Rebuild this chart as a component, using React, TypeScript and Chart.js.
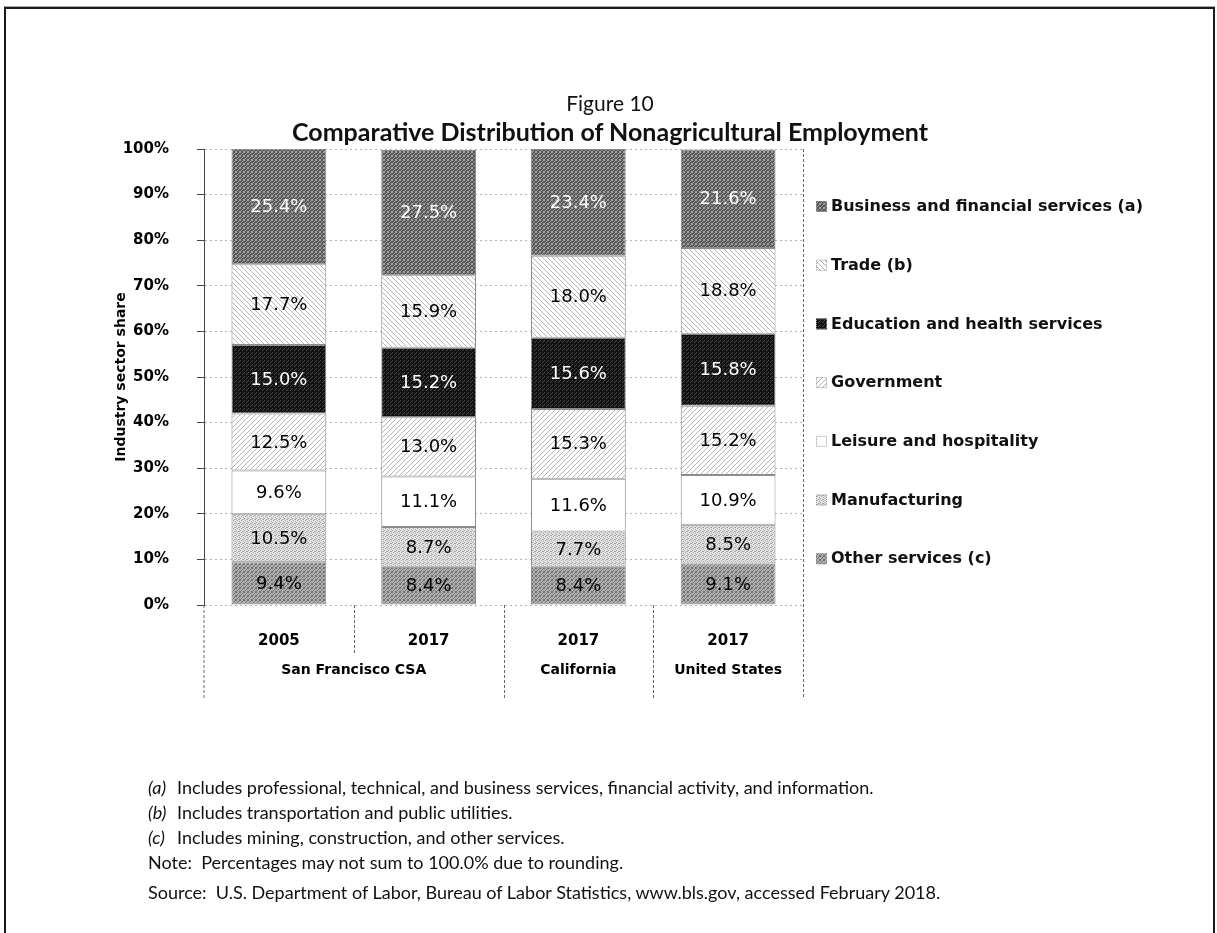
import React, { useEffect, useRef } from "react";
import { Chart, registerables } from "chart.js";
Chart.register(...registerables);

// ---------- data ----------
const categories = ["2005", "2017", "2017", "2017"];
const groupLabels = ["San Francisco CSA", "California", "United States"];
const groupSpans = [2, 1, 1];
const seriesNames = [
  "Other services (c)",
  "Manufacturing",
  "Leisure and hospitality",
  "Government",
  "Education and health services",
  "Trade (b)",
  "Business and financial services (a)",
];
const otherServices = [9.4, 8.4, 8.4, 9.1];
const manufacturing = [10.5, 8.7, 7.7, 8.5];
const leisureHospitality = [9.6, 11.1, 11.6, 10.9];
const government = [12.5, 13.0, 15.3, 15.2];
const educationHealth = [15.0, 15.2, 15.6, 15.8];
const trade = [17.7, 15.9, 18.0, 18.8];
const businessFinancial = [25.4, 27.5, 23.4, 21.6];
const yTickStep = 10;
const yMax = 100;

const footnotes = [
  { mark: "(a)", text: "Includes professional, technical, and business services, financial activity, and information." },
  { mark: "(b)", text: "Includes transportation and public utilities." },
  { mark: "(c)", text: "Includes mining, construction, and other services." },
];
const noteText = "Note:  Percentages may not sum to 100.0% due to rounding.";
const sourceText = "Source:  U.S. Department of Labor, Bureau of Labor Statistics, www.bls.gov, accessed February 2018.";

// ---------- layout ----------
const W = 1217;
const H = 933;
const PLOT_LEFT = 204;
const PLOT_RIGHT = 803;
const PLOT_TOP = 149;
const PLOT_BOTTOM = 605;
const Y_AXIS_W = 80;
const CAT_LABEL_Y = 641;
const GROUP_LABEL_Y = 670;
const INNER_SEP_BOTTOM = 655;
const OUTER_SEP_BOTTOM = 698;
const LEGEND_X = 816;
const LEGEND_Y0 = 206;
const LEGEND_DY = 58.7;
const CHART_FONT = "'DejaVu Sans', Verdana, sans-serif";
const TEXT_FONT = "Lato, 'Open Sans', sans-serif";

type Kind = "dark" | "black" | "hatchDown" | "hatchUp" | "white" | "lightDots" | "medDots";
const seriesKinds: Kind[] = ["medDots", "lightDots", "white", "hatchUp", "black", "hatchDown", "dark"];
const whiteLabel = [false, false, false, false, true, false, true];

function makeTile(size: number, bg: string, fg: string, pts: number[][]) {
  const c = document.createElement("canvas");
  c.width = size;
  c.height = size;
  const g = c.getContext("2d")!;
  g.fillStyle = bg;
  g.fillRect(0, 0, size, size);
  g.fillStyle = fg;
  pts.forEach(([x, y]) => g.fillRect(x, y, 1, 1));
  return c;
}

const speckle6 = [[0, 0], [2, 1], [1, 2], [3, 3], [3, 0], [0, 3]];
const speckle3 = [[0, 0], [2, 2], [3, 1]];
const speckle5 = [[1, 0], [3, 1], [0, 2], [2, 3], [3, 3]];

function makePattern(ctx: CanvasRenderingContext2D, kind: Kind): CanvasPattern | string {
  let tile: HTMLCanvasElement;
  switch (kind) {
    case "dark":
      tile = makeTile(4, "#565656", "#a4a4a4", speckle6);
      break;
    case "black":
      tile = makeTile(4, "#121212", "#4a4a4a", speckle3);
      break;
    case "lightDots":
      tile = makeTile(4, "#e4e4e4", "#a8a8a8", speckle5);
      break;
    case "medDots":
      tile = makeTile(4, "#b2b2b2", "#6c6c6c", speckle6);
      break;
    case "hatchDown": {
      const pts: number[][] = [];
      for (let i = 0; i < 5; i++) pts.push([i, i]);
      tile = makeTile(5, "#ffffff", "#b4b4b4", pts);
      break;
    }
    case "hatchUp": {
      const pts: number[][] = [];
      for (let i = 0; i < 5; i++) pts.push([4 - i, i]);
      tile = makeTile(5, "#ffffff", "#b4b4b4", pts);
      break;
    }
    default:
      return "#ffffff";
  }
  return ctx.createPattern(tile, "repeat") || "#999";
}

const seriesValues = [
  otherServices,
  manufacturing,
  leisureHospitality,
  government,
  educationHealth,
  trade,
  businessFinancial,
];

export default function App() {
  const ref = useRef<HTMLCanvasElement | null>(null);

  useEffect(() => {
    const canvas = ref.current;
    if (!canvas) return;
    const ctx = canvas.getContext("2d")!;
    const fills = seriesKinds.map((k) => makePattern(ctx, k));

    const decorPlugin = {
      id: "decor",
      afterDatasetsDraw(chart: any) {
        const c = chart.ctx as CanvasRenderingContext2D;
        c.save();
        c.font = `18px ${CHART_FONT}`;
        c.textAlign = "center";
        c.textBaseline = "middle";
        chart.data.datasets.forEach((ds: any, di: number) => {
          const meta = chart.getDatasetMeta(di);
          meta.data.forEach((bar: any, i: number) => {
            const top = Math.max(bar.y, chart.chartArea.top);
            const yc = (top + bar.base) / 2;
            c.fillStyle = whiteLabel[di] ? "#ffffff" : "#000000";
            c.fillText(`${Number(ds.data[i]).toFixed(1)}%`, bar.x, yc + 1);
          });
        });
        c.restore();
      },
      afterDraw(chart: any) {
        const c = chart.ctx as CanvasRenderingContext2D;
        const area = chart.chartArea;
        const xs = chart.scales.x;
        c.save();
        c.strokeStyle = "#666";
        c.lineWidth = 1;
        c.setLineDash([3, 2]);
        c.beginPath();
        c.moveTo(area.right + 0.5, area.top);
        c.lineTo(area.right + 0.5, OUTER_SEP_BOTTOM);
        c.moveTo(area.left, area.bottom);
        c.lineTo(area.left, OUTER_SEP_BOTTOM);
        c.stroke();
        const n = categories.length;
        const half = (xs.getPixelForValue(1) - xs.getPixelForValue(0)) / 2;
        let idx = 0;
        const groupEnds = new Set<number>();
        groupSpans.forEach((s) => {
          idx += s;
          groupEnds.add(idx);
        });
        c.beginPath();
        for (let i = 1; i < n; i++) {
          const x = Math.round(xs.getPixelForValue(i) - half) + 0.5;
          c.moveTo(x, area.bottom);
          c.lineTo(x, groupEnds.has(i) ? OUTER_SEP_BOTTOM : INNER_SEP_BOTTOM);
        }
        c.stroke();
        c.setLineDash([]);
        c.fillStyle = "#000";
        c.textAlign = "center";
        c.textBaseline = "middle";
        c.font = `bold 15px ${CHART_FONT}`;
        categories.forEach((lab, i) => {
          c.fillText(lab, xs.getPixelForValue(i), CAT_LABEL_Y);
        });
        c.font = `bold 14px ${CHART_FONT}`;
        let start = 0;
        groupLabels.forEach((g, gi) => {
          const end = start + groupSpans[gi] - 1;
          const x = (xs.getPixelForValue(start) + xs.getPixelForValue(end)) / 2;
          c.fillText(g, x, GROUP_LABEL_Y);
          start = end + 1;
        });
        c.save();
        c.translate(121, (area.top + area.bottom) / 2);
        c.rotate(-Math.PI / 2);
        c.font = `bold 14px ${CHART_FONT}`;
        c.fillText("Industry sector share", 0, 0);
        c.restore();
        c.textAlign = "left";
        c.font = `bold 16px ${CHART_FONT}`;
        for (let k = seriesNames.length - 1, row = 0; k >= 0; k--, row++) {
          const y = LEGEND_Y0 + row * LEGEND_DY;
          c.fillStyle = fills[k] as any;
          c.fillRect(LEGEND_X, y - 5, 11, 11);
          c.strokeStyle = "#999";
          c.lineWidth = 1;
          c.setLineDash([1, 1]);
          c.strokeRect(LEGEND_X + 0.5, y - 4.5, 10, 10);
          c.setLineDash([]);
          c.fillStyle = "#111";
          c.fillText(seriesNames[k], LEGEND_X + 15, y + 1);
        }
        c.restore();
      },
    };

    const chart = new Chart(ctx, {
      type: "bar",
      data: {
        labels: categories,
        datasets: seriesNames.map((name, i) => ({
          label: name,
          data: seriesValues[i],
          backgroundColor: fills[i] as any,
          borderColor: "#8c8c8c",
          borderWidth: 1,
          borderSkipped: false,
          barPercentage: 0.633,
          categoryPercentage: 1,
        })),
      },
      options: {
        responsive: false,
        animation: false,
        devicePixelRatio: 1,
        layout: {
          padding: {
            left: PLOT_LEFT - Y_AXIS_W,
            right: W - PLOT_RIGHT,
            top: PLOT_TOP,
            bottom: H - PLOT_BOTTOM,
          },
        },
        plugins: {
          legend: { display: false },
          tooltip: { enabled: false },
          title: { display: false },
        },
        scales: {
          x: { stacked: true, display: false },
          y: {
            stacked: true,
            min: 0,
            max: yMax,
            afterFit: (s: any) => {
              s.width = Y_AXIS_W;
            },
            ticks: {
              stepSize: yTickStep,
              callback: (v: any) => `${v}%`,
              color: "#000",
              padding: 28,
              font: { family: CHART_FONT, size: 15, weight: "bold" },
            },
            grid: {
              color: "#b4b4b4",
              lineWidth: 1,
              tickLength: 7,
              tickColor: "#444",
              tickBorderDash: [],
            } as any,
            border: { display: true, color: "#444", width: 1, dash: [2, 3] },
          },
        },
      },
      plugins: [decorPlugin],
    } as any);
    return () => chart.destroy();
  }, []);

  const textStyle = (top: number, extra: React.CSSProperties = {}): React.CSSProperties => ({
    position: "absolute",
    top,
    lineHeight: "26px",
    fontFamily: TEXT_FONT,
    color: "#111",
    whiteSpace: "pre",
    ...extra,
  });

  const footY = [787, 812, 837];

  return (
    <div style={{ position: "fixed", left: 0, top: 0, width: W, height: H, overflow: "hidden", background: "#fff" }}>
      <div
        style={{
          position: "absolute",
          left: 4,
          top: 7,
          width: 1207,
          height: 1000,
          border: "2px solid #1a1a1a",
          boxShadow: "0 -1px 0 #aaa",
        }}
      />
      <canvas ref={ref} width={W} height={H} style={{ position: "absolute", left: 0, top: 0, width: W, height: H }} />
      <div style={textStyle(103 - 13, { left: 0, width: 1220, textAlign: "center", fontSize: 21 })}>Figure 10</div>
      <div style={textStyle(131 - 13, { left: 0, width: 1220, textAlign: "center", fontSize: 25, fontWeight: "bold" })}>
        Comparative Distribution of Nonagricultural Employment
      </div>
      {footnotes.map((f, i) => (
        <React.Fragment key={i}>
          <div style={textStyle(footY[i] - 13, { left: 148, fontSize: 18, fontStyle: "italic" })}>{f.mark}</div>
          <div style={textStyle(footY[i] - 13, { left: 177, fontSize: 18 })}>{f.text}</div>
        </React.Fragment>
      ))}
      <div style={textStyle(862 - 13, { left: 148, fontSize: 18 })}>{noteText}</div>
      <div style={textStyle(892 - 13, { left: 148, fontSize: 18 })}>{sourceText}</div>
    </div>
  );
}
